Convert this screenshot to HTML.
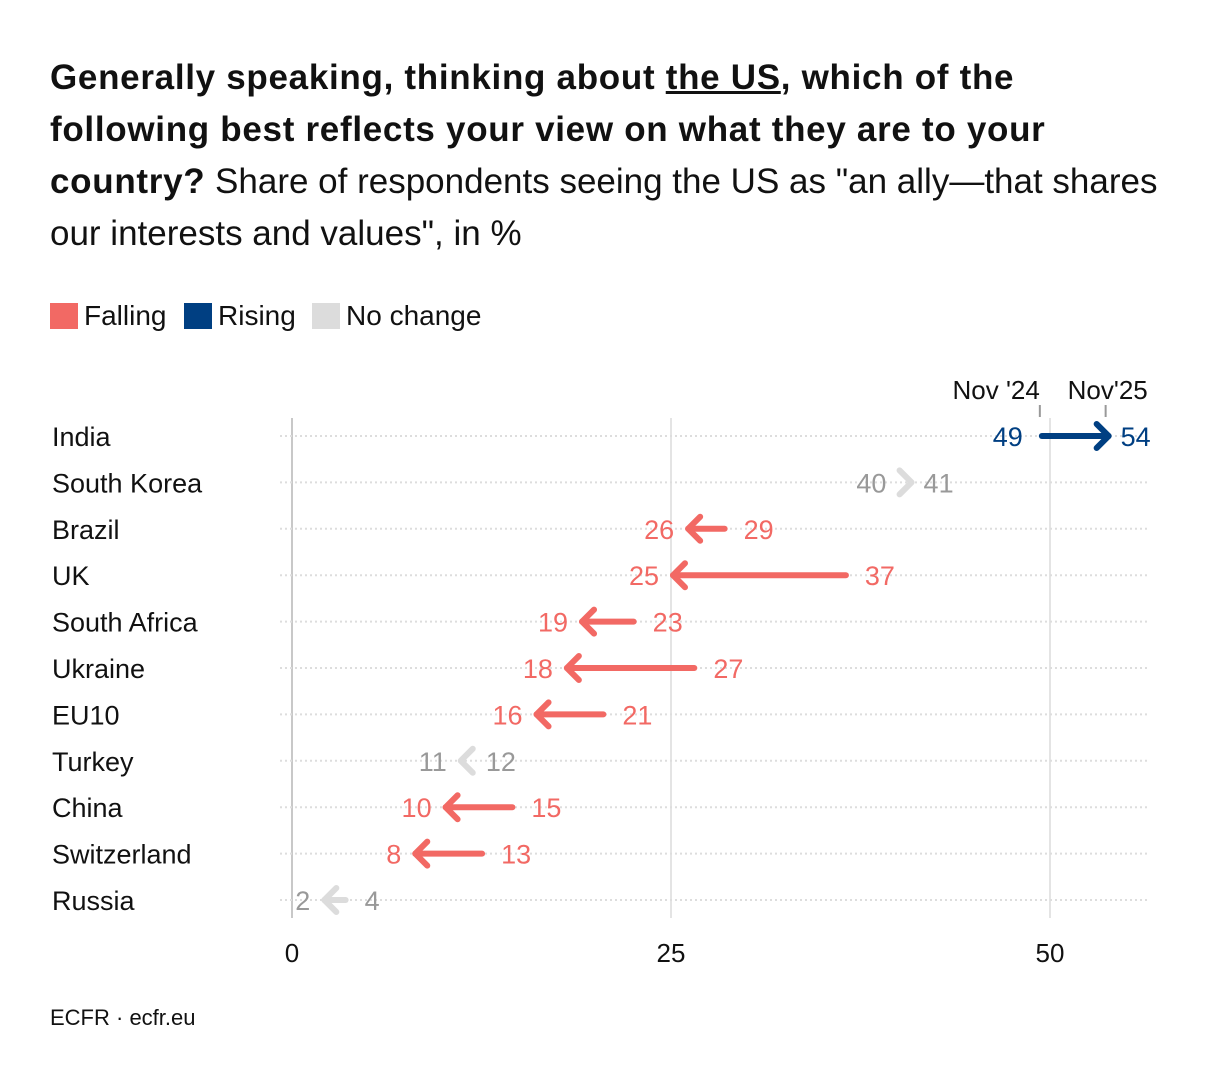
<!DOCTYPE html>
<html><head><meta charset="utf-8"><style>
body{margin:0;background:#fff;font-family:"Liberation Sans",sans-serif;}
#wrap{position:relative;width:1220px;height:1086px;overflow:hidden}
h1{position:absolute;left:50px;top:52px;width:1160px;margin:0;font-size:35px;line-height:52px;font-weight:normal;color:#111;letter-spacing:0px;white-space:nowrap}
h1 b{font-weight:bold;letter-spacing:0.7px}
.leg{position:absolute;top:300px;font-size:28px;color:#111;display:flex;align-items:center}
.sw{display:inline-block;width:28px;height:26px;margin-right:6px}
.src{position:absolute;left:50px;top:1005px;font-size:22px;color:#111}
svg text{font-family:"Liberation Sans",sans-serif}
</style></head><body><div id="wrap">
<h1><b>Generally speaking, thinking about <u>the US</u>, which of the<br>following best reflects your view on what they are to your<br>country?</b> Share of respondents seeing the US as "an ally—that shares<br>our interests and values", in %</h1>
<div class="leg" style="left:50px"><span class="sw" style="background:#f26964"></span>Falling</div>
<div class="leg" style="left:184px"><span class="sw" style="background:#003f82"></span>Rising</div>
<div class="leg" style="left:312px"><span class="sw" style="background:#dcdcdc"></span>No change</div>
<svg id="c" width="1220" height="1086" style="position:absolute;left:0;top:0"></svg>
<div class="src">ECFR · ecfr.eu</div>
</div>
<script>
const countries=["India","South Korea","Brazil","UK","South Africa","Ukraine","EU10","Turkey","China","Switzerland","Russia"];
const nov24=[49,40,29,37,23,27,21,12,15,13,4];
const nov25=[54,41,26,25,19,18,16,11,10,8,2];
const ticks=[0,25,50];
const NS="http://www.w3.org/2000/svg";
const svg=document.getElementById('c');
const x=v=>292+v*15.16;
const y=i=>436+i*46.4;
function el(t,a,p){const e=document.createElementNS(NS,t);for(const k in a)e.setAttribute(k,a[k]);(p||svg).appendChild(e);return e;}
ticks.forEach(t=>{
 const l=el('line',{x1:x(t),x2:x(t),y1:418,y2:918,stroke:t==0?'#c8c8c8':'#e4e4e4','stroke-width':2});
 
 
 const tx=el('text',{x:x(t),y:962,'text-anchor':'middle','font-size':26,fill:'#111'});tx.textContent=t;
 
 
});
[[nov24[0],"Nov '24"],[nov25[0],"Nov'25"]].forEach(([v,s],k)=>{
 const px=k==0?x(v)+5:x(v)-5;
 el('line',{x1:px,x2:px,y1:405,y2:417,stroke:'#999','stroke-width':2});
 const t=el('text',{x:k==0?px:px-38,y:399,'text-anchor':k==0?'end':'start','font-size':26,fill:'#111'});t.textContent=s;
 
 
});
countries.forEach((c,i)=>{
 const yy=y(i);
 el('line',{x1:280,x2:1150,y1:yy,y2:yy,stroke:'#ddd','stroke-width':2,'stroke-dasharray':'2,3'});
 const lab=el('text',{x:52,y:yy+10,'font-size':27,fill:'#111'});lab.textContent=c;
 
 
 const a=nov24[i],b=nov25[i],d=b-a;
 const col=Math.abs(d)<=2?'#dcdcdc':(d>0?'#003f82':'#f26964');
 const tcol=Math.abs(d)<=2?'#999':col;
 const dir=d>=0?1:-1;
 const x0=x(a)+dir*7,x1=x(b)-dir*2;
 const g=el('g',{stroke:col,'stroke-width':6,'stroke-linecap':'round','stroke-linejoin':'round',fill:'none'});
 
 
 if(Math.abs(x1-x0)>14) el('line',{x1:x0,x2:x1,y1:yy,y2:yy},g);
 el('polyline',{points:`${x1-dir*12},${yy-12} ${x1},${yy} ${x1-dir*12},${yy+12}`},g);
 const ta=el('text',{x:dir>0?x(a)-12:x(a)+12,y:yy+10,'font-size':27,fill:tcol,'text-anchor':dir>0?'end':'start'});
 ta.textContent=a;
 
 
 const tb=el('text',{x:dir>0?x(b)+10:x(b)-12,y:yy+10,'font-size':27,fill:tcol,'text-anchor':dir>0?'start':'end'});tb.textContent=b;
 
 
});
</script></body></html>
